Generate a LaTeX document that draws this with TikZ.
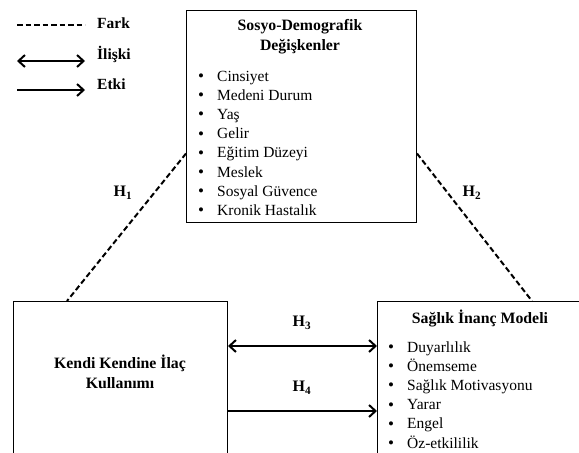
\documentclass[tikz,border=0pt]{standalone}
\usepackage{fontspec}
\setmainfont{Liberation Serif}
\usetikzlibrary{arrows.meta}
\tikzset{
  box/.style={draw, line width=1pt, inner sep=0pt, anchor=north west},
  txt/.style={inner sep=0pt, anchor=base west, font=\fontsize{15.5}{18}\selectfont},
  ttl/.style={inner sep=0pt, anchor=base, font=\fontsize{15.8}{18}\selectfont\bfseries},
  bul/.style={inner sep=0pt, anchor=base, font=\fontsize{17}{18}\selectfont},
  hlab/.style={inner sep=0pt, font=\fontsize{16}{18}\selectfont\bfseries},
  fark/.style={dashed, dash pattern=on 5.5pt off 3pt, line width=2pt},
  rel/.style={{Straight Barb[length=6.5pt,width=12pt,line width=2pt]}-{Straight Barb[length=6.5pt,width=12pt,line width=2pt]}, line width=2.4pt},
  eff/.style={-{Straight Barb[length=6.5pt,width=12pt,line width=2pt]}, line width=2.4pt}
}
\begin{document}
\begin{tikzpicture}[x=1pt,y=-1pt]
\useasboundingbox (0,0) rectangle (579,453);
\fill[white] (0,0) rectangle (579,453);
% legend
\coordinate (l1a) at (17,25); \coordinate (l1b) at (85,25);
\coordinate (l2a) at (17,61); \coordinate (l2b) at (85,61);
\coordinate (l3a) at (17,90); \coordinate (l3b) at (85,90);
\draw[fark] (l1a) -- (l1b);
\draw[rel] (l2a) -- (l2b);
\draw[eff] (l3a) -- (l3b);
\node[txt, font=\fontsize{15.5}{18}\selectfont\bfseries] (lf) at (97,28) {Fark};
\node[txt, font=\fontsize{15.5}{18}\selectfont\bfseries] (li) at (97,59) {İlişki};
\node[txt, font=\fontsize{15.5}{18}\selectfont\bfseries] (le) at (97,89) {Etki};
% boxes
\node[box, minimum width=230pt, minimum height=212pt] (sd) at (186,10) {};
\node[box, minimum width=214pt, minimum height=200pt] (kk) at (13,301) {};
\node[box, minimum width=230pt, minimum height=200pt] (sim) at (377,301) {};
% top box text
\node[ttl] (sdt1) at (300,30) {Sosyo-Demografik};
\node[ttl] (sdt2) at (300,50) {Değişkenler};
\foreach \t [count=\i] in {Cinsiyet,Medeni Durum,Yaş,Gelir,Eğitim Düzeyi,Meslek,Sosyal Güvence,Kronik Hastalık}{
  \node[bul] (sdb\i) at (201,81.5+19.2*\i-19.2) {•};
  \node[txt] (sdi\i) at (217,81+19.2*\i-19.2) {\t};
}
% left box text
\node[ttl] (kkt1) at (120,368) {Kendi Kendine İlaç};
\node[ttl] (kkt2) at (120,388) {Kullanımı};
% right box text
\node[ttl] (simt) at (480,323) {Sağlık İnanç Modeli};
\foreach \t [count=\i] in {Duyarlılık,Önemseme,Sağlık Motivasyonu,Yarar,Engel,Öz-etkililik}{
  \node[bul] (simb\i) at (391,352.5+19.2*\i-19.2) {•};
  \node[txt] (simi\i) at (407,352+19.2*\i-19.2) {\t};
}
% dashed connectors
\draw[fark] ([yshift=-37pt]sd.west) -- ([xshift=54pt]kk.north west);
\draw[fark] ([yshift=-37pt]sd.east) -- ([xshift=155pt]sim.north west);
% arrows
\draw[rel] ([yshift=-45pt]kk.north east) -- ([yshift=-45pt]sim.north west);
\draw[eff] ([yshift=-110pt]kk.north east) -- ([yshift=-110pt]sim.north west);
% labels
\node[hlab] (h1) at (123,193) {H\textsubscript{1}};
\node[hlab] (h2) at (472,193) {H\textsubscript{2}};
\node[hlab] (h3) at (302,323) {H\textsubscript{3}};
\node[hlab] (h4) at (302,388) {H\textsubscript{4}};
\end{tikzpicture}
\end{document}
